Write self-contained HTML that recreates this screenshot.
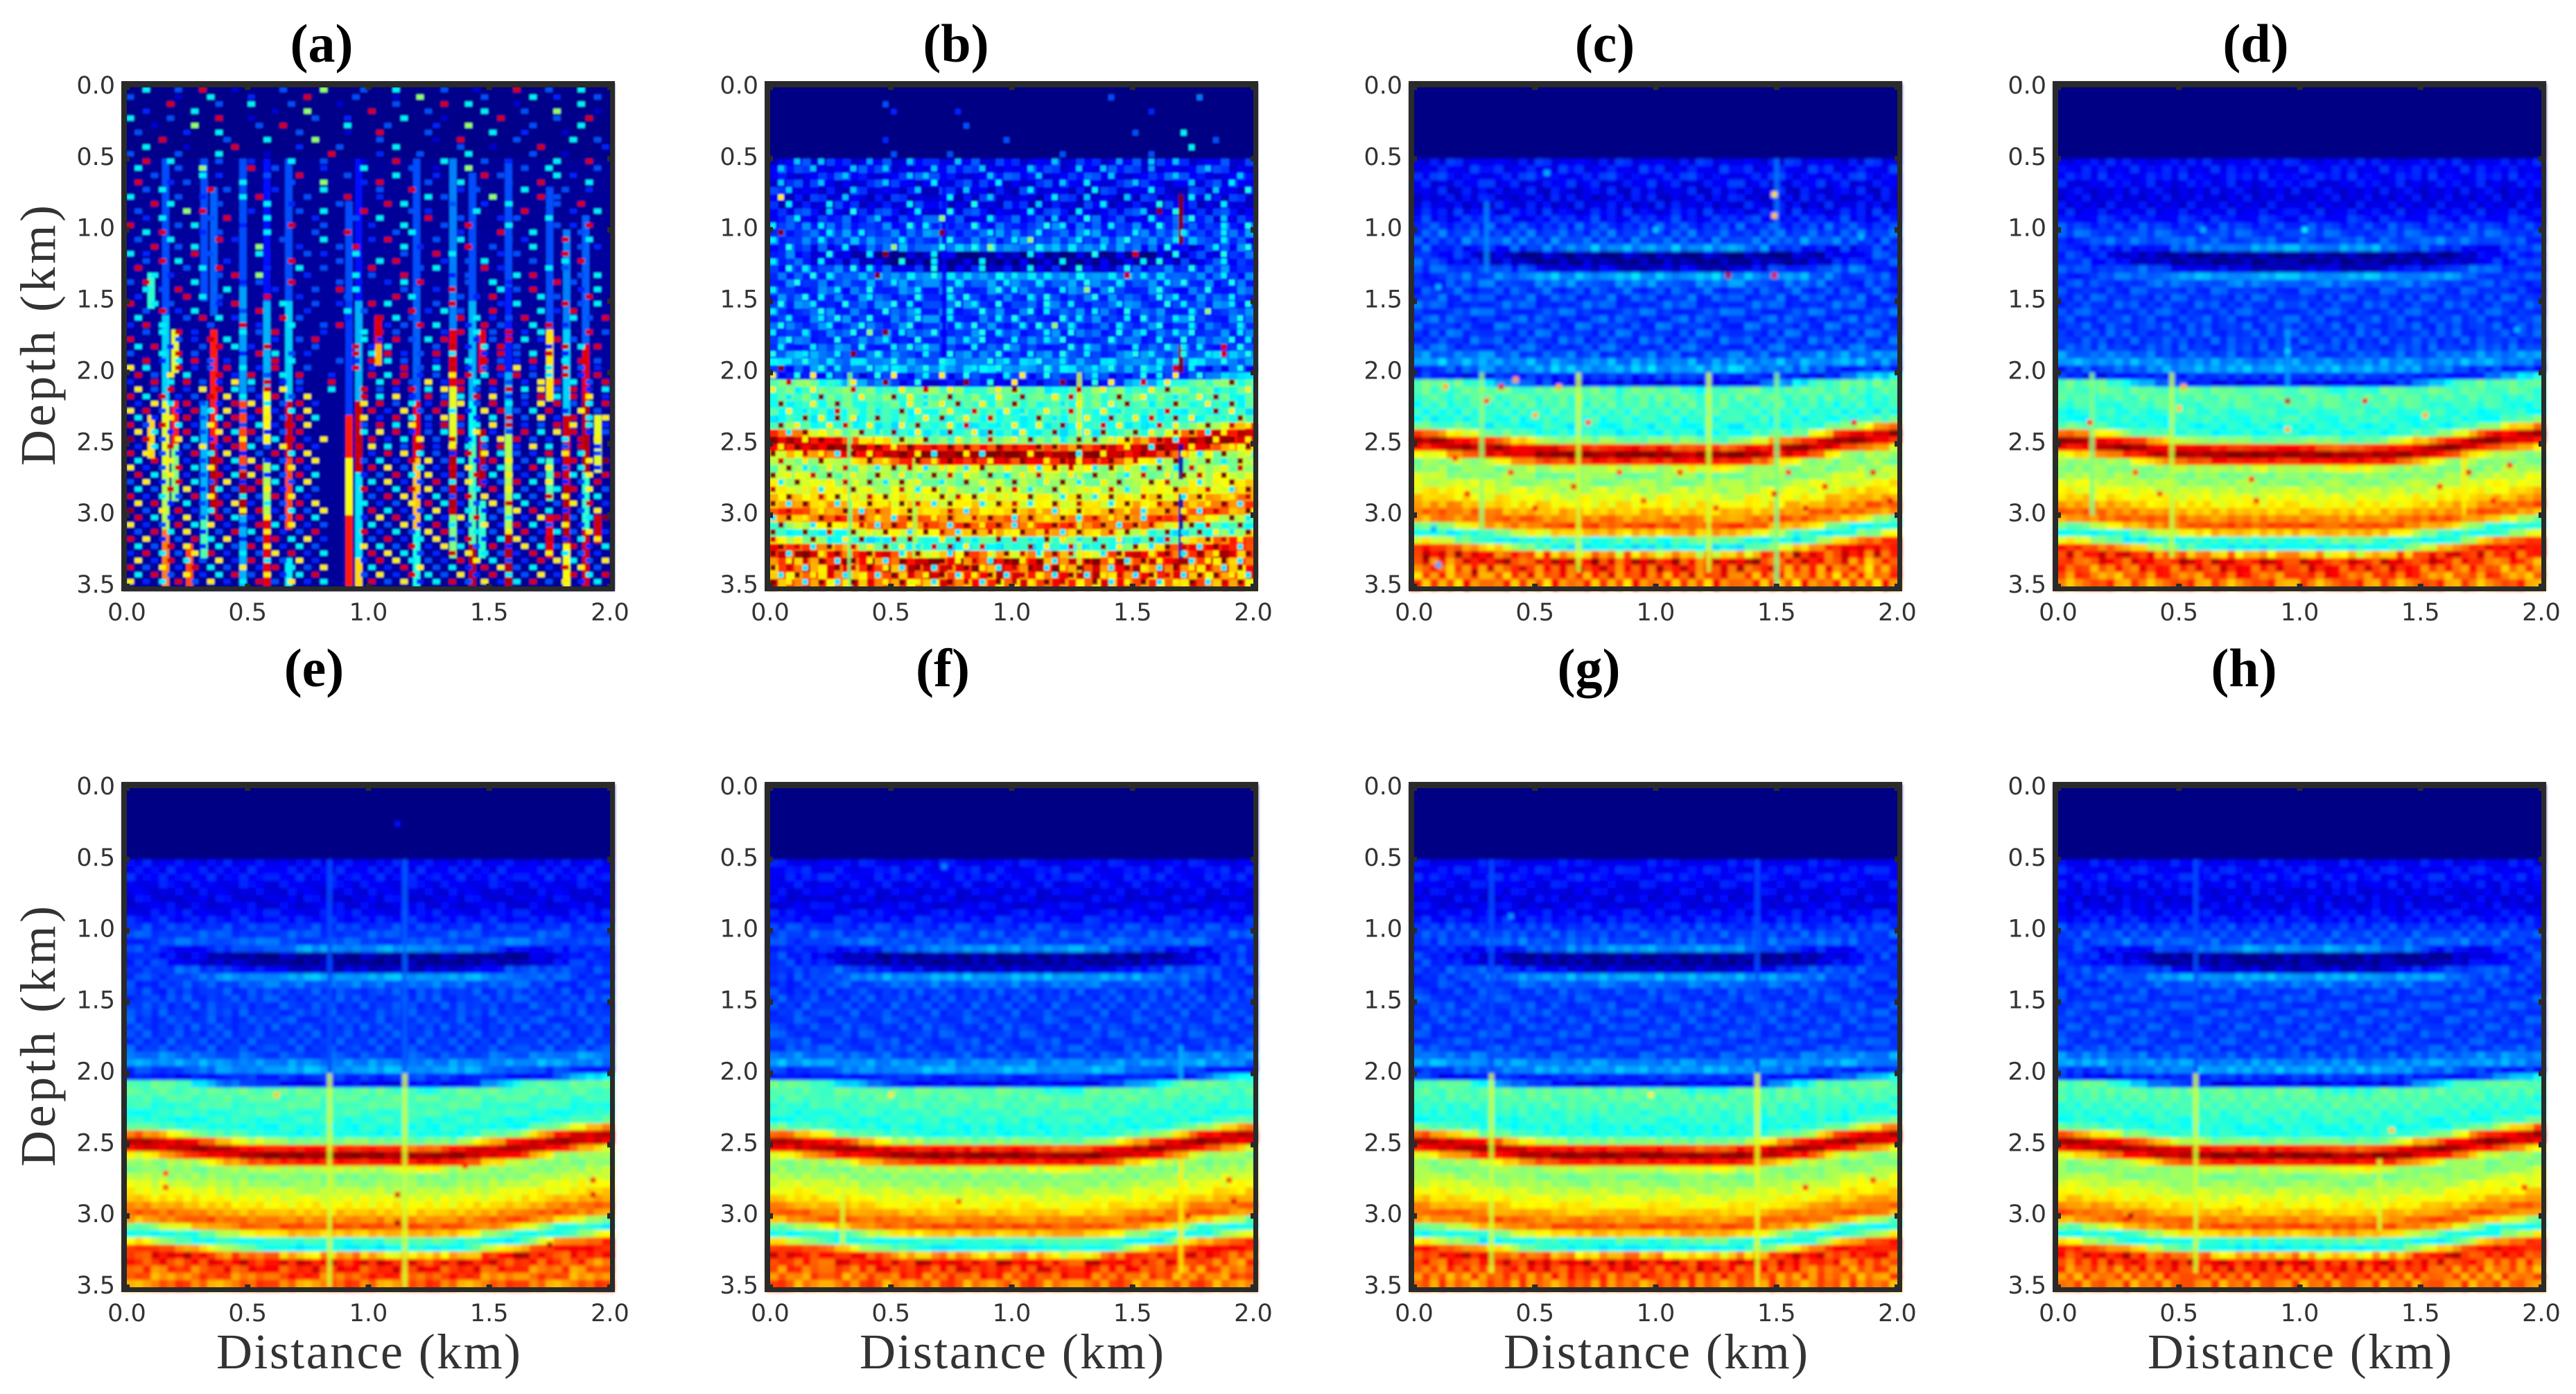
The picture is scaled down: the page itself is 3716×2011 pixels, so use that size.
<!DOCTYPE html>
<html lang="en">
<head>
<meta charset="utf-8">
<title>Depth sections (a)–(h)</title>
<style>
html,body{margin:0;padding:0;background:#fff}
svg{display:block}
.tick{font-family:"DejaVu Sans",sans-serif;font-size:35px;fill:#333}
.axis{font-family:"Liberation Serif",serif;font-size:72px;fill:#333}
.title{font-family:"Liberation Serif",serif;font-size:78px;font-weight:bold;fill:#000}
</style>
</head>
<body>
<svg id="fig" xmlns="http://www.w3.org/2000/svg" width="3716" height="2011" viewBox="0 0 3716 2011">
<defs>
<filter id="soft" filterUnits="userSpaceOnUse" x="0" y="0" width="3716" height="2011"><feGaussianBlur stdDeviation="2"/></filter>
<filter id="softFine" filterUnits="userSpaceOnUse" x="0" y="0" width="3716" height="2011"><feGaussianBlur stdDeviation="1.2"/></filter>
</defs>
<rect width="3716" height="2011" fill="#fff"/>
</svg>
<script>
// ---------- axis data ----------
const xTickValues = [0, 0.5, 1, 1.5, 2];
const xTickLabels = ['0.0', '0.5', '1.0', '1.5', '2.0'];
const yTickValues = [0, 0.5, 1, 1.5, 2, 2.5, 3, 3.5];
const yTickLabels = ['0.0', '0.5', '1.0', '1.5', '2.0', '2.5', '3.0', '3.5'];
const panelNames = ['a', 'b', 'c', 'd', 'e', 'f', 'g', 'h'];

// ---------- amplitude by depth (0.05 km per row, 0..1 on the jet scale), read at x = 1.0 km ----------
const depthProfile = [
.005,.005,.005,.005,.005,.005,.005,.005,.005,.005,
.115,.125,.13,.115,.1,.095,.1,.12,.14,.17,
.185,.19,.26,.03,.025,.07,.28,.22,.18,.18,
.18,.18,.18,.18,.18,.18,.18,.19,.25,.28,
.17,.12,.47,.46,.45,.43,.42,.4,.4,.5,
.85,.98,.85,.55,.5,.52,.56,.6,.63,.68,
.74,.8,.68,.42,.38,.7,.88,.84,.8,.76];

// Depth shift of the deep horizons per column (km), 60 columns from 0 to 2 km
const horizonShift = [
-.09,-.09,-.085,-.08,-.075,-.07,-.065,-.06,-.05,-.045,
-.04,-.03,-.025,-.02,-.015,-.01,-.01,-.005,-.005,0,
0,0,0,0,0,.005,0,0,0,0,
0,0,.005,.005,.01,.01,.01,.01,.01,.005,
0,-.005,-.01,-.015,-.025,-.03,-.035,-.045,-.05,-.06,
-.07,-.08,-.09,-.1,-.105,-.115,-.12,-.125,-.13,-.14];

// Shallow reflector (about 1.2 km): vertical shift and visibility per column
const reflectorShift = [
-.05,-.05,-.05,-.05,-.045,-.045,-.04,-.04,-.035,-.03,
-.03,-.025,-.02,-.02,-.015,-.015,-.01,-.01,-.01,-.005,
-.005,0,0,0,0,0,0,0,0,0,
0,0,0,0,0,0,0,0,0,0,
-.005,-.005,-.01,-.01,-.015,-.015,-.02,-.025,-.025,-.03,
-.03,-.035,-.04,-.04,-.045,-.045,-.05,-.05,-.05,-.05];
const reflectorStrength = [
0,0,0,.1,.2,.3,.4,.5,.6,.7,
.75,.8,.9,1,1,1,1,1,1,1,
1,1,1,1,1,1,1,1,1,1,
1,1,1,1,1,1,1,1,1,1,
1,1,1,1,1,1,1,1,.95,.85,
.75,.65,.55,.4,.3,.2,.1,.05,0,0];

// Fine-grain variation tile (digits 0-9, 4.5 is neutral)
const grainTile = [
"3716492085316749208371564902837",
"8250637194826035718492063581749",
"1964283705192648370519284637052",
"6038571926403857192640385719264",
"4792016385724916038572491603857",
"9135840627193584062719358406271",
"2607391548260739154826073915482",
"5481726093548172609354817260935",
"7329054816732905481673290548167",
"0856213974085621397408562139740",
"3194760528319476052831947605283",
"6572984130657298413065729841306",
"1840357692184035769218403576921",
"9263108475926310847592631084759",
"4718625930471862593047186259304",
"7035491286703549128670354912867",
"2596870314259687031425968703142",
"8361024759836102475983610247598",
"5127938640512793864051279386405",
"0983465172098346517209834651720",
"3640719825364071982536407198253",
"6805273419680527341968052734196",
"1472896053147289605314728960531",
"9258031746925803174692580317469"];
const grainAmount = [0, .06, .045, .035, .03, .03, .03, .03];

// Panel (a) background by depth band (every 0.5 km)
const panelABackground = [.01, .025, .03, .03, .025, .025, .025];

// Vertical streaks: [x km, from depth km, to depth km, amplitude]
const streaksA = [
[.16,.5,1.6,.2],[.16,1.6,2.2,.33],[.16,2.2,2.7,.6],[.16,2.7,3.1,.55],[.16,3.1,3.5,.75],
[.2,1.7,2,.6],[.2,2.2,2.5,.85],[.2,2.5,2.9,.5],[.1,1.3,1.55,.42],[.1,2.3,2.6,.66],[.26,3.2,3.5,.8],
[.32,.5,1.5,.2],[.32,2.2,3,.3],[.32,3,3.3,.45],[.36,.7,1.6,.22],[.36,1.7,2.5,.85],[.36,2.5,3,.95],
[.48,.5,1.4,.2],[.48,1.4,2.2,.28],[.48,2.2,2.7,.8],[.48,2.7,3,.96],[.48,3,3.5,.3],
[.58,.5,1.5,.14],[.58,1.5,2.1,.3],[.58,2.1,2.5,.62],[.58,2.6,3,.55],[.58,3,3.5,.9],
[.67,.5,1.5,.2],[.67,1.5,2.2,.33],[.67,2.2,2.6,.92],[.67,2.6,3.1,.8],[.67,3.3,3.5,.36],
[.92,.8,1.5,.2],[.92,1.5,2.3,.18],[.92,2.3,2.6,.85],[.92,2.6,3,.62],[.92,3,3.5,.85],
[.96,.5,1.5,.14],[.96,1.5,2.2,.3],[.96,2.2,2.7,.93],[.96,2.7,3.3,.35],[.96,3.3,3.5,.66],
[1.04,1.6,1.8,.9],[1.04,1.8,1.95,.7],
[1.2,.5,1.4,.2],[1.2,1.4,2.2,.22],[1.2,2.2,2.6,.9],[1.2,2.6,3.1,.68],[1.2,3.1,3.5,.4],
[1.35,.5,1.7,.25],[1.35,1.7,2.1,.9],[1.35,2.1,2.5,.6],[1.35,2.5,3,.95],[1.35,3,3.3,.5],
[1.43,.6,1.5,.2],[1.43,1.5,2.2,.3],[1.43,2.2,2.5,.38],[1.43,2.5,3.2,.45],[1.43,3.2,3.5,.95],
[1.47,1.7,2,.9],[1.47,2.4,2.8,.95],[1.47,2.9,3.3,.42],
[1.58,.5,1.4,.2],[1.58,1.4,2,.15],[1.58,2,2.4,.3],[1.58,2.4,3.1,.55],[1.58,3.1,3.5,.95],
[1.75,.7,1.7,.2],[1.75,1.7,2.2,.65],[1.75,2.6,2.9,.45],[1.75,3,3.3,.9],
[1.82,1,1.7,.25],[1.82,1.7,2.3,.33],[1.82,2.3,2.8,.92],[1.82,2.8,3.3,.95],[1.82,3.2,3.5,.62],
[1.9,.9,1.8,.22],[1.9,1.8,2.2,.9],[1.9,2.2,2.7,.95],[1.9,2.7,3.1,.42],[1.9,3.1,3.5,.92],
[1.95,2.3,2.7,.6],[1.95,3,3.2,.92]];
const streaksB = [[1.7,.75,1.1,.99],[1.7,1.8,2,.99],[1.7,2.5,2.75,.05],[1.7,2.85,3.3,.05],[.72,.5,1.9,.12],[.33,2,3.5,.5],[.6,2.6,3.3,.55],[1.28,2,3.4,.58]];
const streaksC = [[1.5,.5,1.1,.24],[1.5,2,3.5,.5],[.3,.8,1.3,.26],[.28,2,3.1,.52],[.68,2,3.4,.58],[1.22,2,3.4,.58]];
const streaksD = [[.95,1.7,2.1,.28],[.14,2,3,.5],[.47,2,3.3,.56],[1.68,2.6,3,.64]];
const streaksE = [[.84,.5,2,.2],[.84,2,3.5,.58],[1.15,.5,2,.22],[1.15,2,3.5,.58]];
const streaksF = [[1.7,1.8,2.05,.3],[1.7,2.6,3.4,.64],[.3,2.7,3.2,.58]];
const streaksG = [[.32,.5,2,.2],[.32,2,3.4,.58],[1.42,.5,2,.2],[1.42,2,3.5,.6]];
const streaksH = [[.57,.5,2,.2],[.57,2,3.4,.58],[1.33,2.6,3.1,.58]];

// Isolated bright cells: [x km, depth km, amplitude]
const spotsC = [[.1,1.4,.3],[.13,2.1,.7],[.3,2.2,.8],[.36,2.1,.9],[.42,2.05,.72],[.5,2.3,.7],[.6,2.1,.7],[.72,2.35,.8],[.17,2.6,.85],[.22,2.85,.88],[.4,2.7,.85],[.5,2.95,.85],[.66,2.8,.9],[.85,2.7,.8],[.95,2.9,.8],[1.1,2.7,.85],[1.25,2.95,.86],[1.3,1.32,.95],[1.49,1.32,.9],[1.49,.75,.65],[1.49,.9,.68],[1.49,2.85,.9],[1.55,2.7,.85],[1.62,2.95,.9],[1.7,2.8,.88],[1.82,2.35,.9],[1.9,2.7,.9],[1.97,2.9,.9],[.05,3.3,.98],[.08,3.1,.3],[.1,3.35,.3],[.25,3.4,.98],[.55,.6,.3],[1.0,1.0,.32],[1.85,1.05,.3]];
const spotsD = [[.13,2.35,.85],[.95,2.2,.95],[.95,2.4,.7],[1.27,2.2,.9],[.52,2.1,.7],[.5,2.25,.68],[1.52,2.3,.7],[.32,2.7,.8],[.8,2.75,.85],[1.58,2.8,.85],[1.7,2.7,.9],[1.8,2.9,.85],[1.87,2.65,.85],[.82,2.9,.85],[.42,2.85,.8],[.6,1,.3],[1.02,1.0,.36],[.95,1.85,.33],[1.9,1.7,.3]];
const spotsE = [[.62,2.15,.68],[1.12,2.85,.9],[1.12,3.05,.95],[1.93,2.75,.88],[1.93,2.85,.9],[.16,2.7,.8],[.16,2.8,.8],[1.75,3.2,.95],[1.12,.25,.14],[1.4,2.65,.85]];
const spotsF = [[1.9,2.75,.85],[1.92,2.9,.9],[.78,2.9,.78],[1.73,3,.9],[.5,2.15,.65],[.72,.55,.25]];
const spotsG = [[1.9,2.75,.82],[.98,2.15,.64],[1.62,2.8,.85],[.4,.9,.27]];
const spotsH = [[1.93,2.8,.85],[.75,2.95,.72],[1.38,2.4,.68],[.3,3.0,.95]];

// Speckle grids for the noisiest panels (60 columns x 70 rows; letter a-z means 0..1, dot means none)
const speckleA = [
"..j...f..x...c.....f....n....f...j.....f...c....x...f...j...",
"f.....c...j....e......x.....f....c..n.......f.....j..e....f.",
".....x.....f...j....f.....c......f.....x..j.....c.......j...",
"..e.....j.........c...n.......x......f......j....f...n....c.",
"j....f.....x...c.......f...e......j....c......x......f...x..",
"...c....n.......f..x.......j....f.....e...n.......f.....j...",
".f.....e...j.........f.....c...x.....f.......j...e....c.....",
"....x.......f....j.....n.......f......c..x......f......j..f.",
"..j....c.....x.......e....f......j.......f...c.....x.......e",
"f.....f....j.....c.......x.....e....f.....j.......f...c.....",
"..x..j.....f...e....j...f....c...x.....j....f..e.....j...x..",
".j....f..n.....x..f.....e....j.....f..c...n......f..j.....f.",
"...f.....j.e.....f...x.....f.....j....e.....x.f......j.e....",
".x...e.f......j.....f...n....e.x.....f...j.....f...x.....j..",
"..f.j.....x.f.....e.....j......f...x.....e.f.....j....f..e..",
"j.....f..e....j.x.....f....x...e.....j.f.....n.....x.f......",
"...x.j.....f.....j..e.....f.....x.j.....f...e..j.....f..x...",
".f.....n.x.....e.....f..j....x.....f.e.....j.....x.....e..j.",
"..e.j.....f.x....j.....e....f..j.....x...f....e.f...j.......",
"x.....f.j.....e.....x...f.....e...j....f..x....j.....f.e.x..",
"..j.x....e.f.....j.....f...x.....f.j.....e....x...j.....f...",
".f...j.....x.e.....f....j.....e.x.....f..j.....f.e....x..j..",
"...x..f.j.....f.n....e....f.x.....j.e.....x..f....j.....f.e.",
"j.e.....x.f.....j.....f.e...j.....f...x.j.....e.f.....x.....",
"..f.x.j.....e.f.....x.....f....j.x.....e..f.j.....f...j.x...",
".x.....f.j.x.....e...j..f.....x.....f.j.....x.e.....j.f.....",
"...j.e.....f.x..n.....e.....j.f...x.....e.f.....j.x.....f.j.",
"f.x.....j.....e.f...x.....f.....e.j.x.....f..j.e.....x.f....",
"..j.f.x.....j.....e....f..x.j.....f...e.x.....j.f.x.....e.j.",
".e.....x.j.f.....x...e.....f.....x.j.....f.e.x.....j.f...x..",
"x..j.f.....e.x.....j...f..e...x.j.....f.x.....e.j.....x.f.j.",
"..f.x.e.j.....f.x.....e....j.f.....x.e.j.f...x.....j.e.x....",
".j.....f.x.j.e.....x.f.....e...x.j.f.....x.j.e.f.x.....j.f.x",
"e.x.j.....f...x.e...j...f.x.....e.f.x.j...e.x.f...j.x.e.....",
"..f.j.x.e.....j.f.x.....e....j.x.f.....e.x.j.f.x.e.j.....x.f",
"x.....f.e.x.j.....e..f.x.....j.e.x.f.j.x...e.f.x.j.e.x.f....",
".j.x.e...f.x.j.e.x.....f....x.e.j.....f.x.e.j.x.f...e.x.j.x.",
"f...j.x.f.....e.x.j.f.e.....x.j.x.e.f.x.j...e.x.f.j.x.e.....",
"..x.e.j.x.f.e.....x.j.....f.e.x.j.f...e.x.j.x.f.e.x...j.x.f.",
"q.j...x.e.f.x.j.e.x...f.....x.e...x.f.j.x.e.f.x.q.e.j.x.f.e.",
".x.f.q.j...x.e.x.f.j.x...e....x.j.x.e.f.q.x.j.e.x.f.j.x.e.x.",
"e..x.j.x.f.e.q.j.x.e.f...x.....j.x.f.q.e.x.j.x.f.e.q.x.j.f.x",
".q.f.x.e.q.x.j.f.x.q.e...j...x.f.e.x.j.q.x.f.e.x.j.q.f.x.e.j",
"x.j.x.e.f.x.q.j.e.x.f.q......x.j.q.e.x.f.j.x.q.e.f.x.j.x.q.e",
".e.q.j.x.f.e.x.q.j.f.x.e.....q.x.f.j.e.x.q.f.x.j.e.q.x.f.j.x",
"q.x.f.e.x.j.q.f.x.e.j.q.......x.e.q.f.x.j.e.q.x.f.j.x.e.q.f.",
".j.e.q.x.f.j.x.e.q.f.x.j.....q.e.x.j.f.q.x.e.j.x.f.q.e.x.j.q",
"x.f.x.j.e.q.x.f.j.e.x.q......f.x.j.q.e.x.f.j.q.x.e.f.x.q.j.e",
".q.j.e.x.f.q.j.x.e.f.x.......j.q.x.e.f.j.x.q.e.f.x.j.q.x.e.f",
"z.x.f.q.j.e.x.q.f.j.x.e.q.....x.e.j.q.f.x.e.j.q.x.f.e.j.x.q.",
".e.j.x.f.q.e.x.j.f.q.x.e......q.j.f.x.e.q.j.f.x.e.q.j.f.x.e.",
"x.q.f.e.x.j.q.e.f.x.j.q.......e.x.q.j.f.e.x.q.j.f.e.x.q.j.f.",
".j.x.q.e.f.x.j.q.e.f.x.q.....f.j.e.x.q.f.j.e.x.q.f.j.e.x.q.z",
"q.e.f.x.j.q.e.f.x.j.q.e.......x.q.f.j.e.x.q.f.j.e.x.q.f.j.e.",
".x.j.q.e.f.x.j.q.e.f.x.j.....e.f.x.j.q.e.f.x.j.q.e.f.x.j.q.x",
"f.q.e.x.j.f.q.e.x.j.f.q.......j.q.e.f.x.j.q.e.f.x.j.q.e.f.x.",
".j.f.x.q.e.j.f.x.q.e.j.f.....x.e.j.x.q.f.e.j.x.q.f.e.j.x.q.f",
"x.e.j.f.x.q.e.j.f.x.q.e.......f.x.q.e.j.f.x.q.e.j.f.x.q.e.j.",
".q.x.e.j.f.x.q.e.j.f.x.q.....j.e.f.q.x.j.e.f.q.x.j.e.f.q.x.e",
"z.f.q.x.e.j.f.q.x.e.j.f.q.....x.j.e.f.q.x.j.e.f.q.x.j.e.f.q.",
".x.j.e.q.f.x.j.e.q.f.x.j.....e.q.x.f.j.e.q.x.f.j.e.q.x.f.j.z",
"q.e.f.x.j.q.e.f.x.j.q.e.f.....j.f.q.e.x.j.f.q.e.x.j.f.q.e.x.",
".f.x.j.q.e.f.x.j.q.e.f.x.....x.e.j.f.q.x.e.j.f.q.x.e.j.f.q.e",
"x.q.e.f.x.j.q.e.f.x.j.q.e.....f.x.e.j.q.f.x.e.j.q.f.x.e.j.q.",
".j.f.x.q.e.j.f.x.q.e.j.f.....q.j.f.x.e.q.j.f.x.e.q.j.f.x.e.j",
"e.x.j.f.q.x.e.j.f.q.x.e.j.....x.q.j.f.e.x.q.j.f.e.x.q.j.f.e.",
".q.e.x.j.f.q.e.x.j.f.q.e.....e.x.q.j.f.e.x.q.j.f.e.x.q.j.f.q",
"x.f.q.e.x.j.f.q.e.x.j.f.q.....j.e.x.q.f.j.e.x.q.f.j.e.x.q.f.",
".j.x.f.q.e.j.x.f.q.e.j.x.....f.q.e.x.j.f.q.e.x.j.f.q.e.x.j.x",
"q.e.j.x.f.q.e.j.x.f.q.e.j.....x.f.q.e.j.x.f.q.e.j.x.f.q.e.j."];
const speckleB = [
"............................................................",
"..........................................f..........g......",
"..............f.............................................",
"...............e.......e.......................e.............",
"............................................................",
"........................f....................................",
".............................................f.....j........",
"..............e..............f.........................f.....",
"....................................................j.......",
"...............f......f.............f..........f.............",
"...i..i.....h....i.....i...........i.......h...i..i.........",
".i...i....i...i.....i.....i.....i.....i..i.....h......i.....",
".........i.......i.i.......i.....i........i.......i.......i.",
".i....i.......i.....j.......j.......i..j.....i......i....j..",
"..i.......i.......i.....i.......j.......j......j.......i...k",
".q.......i............j....i.......j...i....i.......j.i.....",
"..j....j.........j.......k.......i.......j......k.......j...",
".......i..k.......j...k.........j.....j.......i.z.k.........",
"...j.........i.......n.....j.......i...k.......j....k...i...",
"j.....j..........k.j.....k........k.j.....j.....k.......j..k.",
".z.....j...j.........z.....j.....j.....j.....j.....j....j...",
"j.....j.........j.....k.......j.n.....j.....k.....j.....j...",
"..k......j.....n.....k...k.n.....k.......j.......k.....j...k",
".......k....j.z.....j...........j.......k....x....k.....k...",
"j.....j.........k...j.....j.........j.........j.k.......j...",
"..k.j.....k.j.......k.....j.....j.....k.....k.......k.......",
".....k.j.....z......k.j.......j...j.......j.x.j.........j...",
"...k...........j.......j.....j...j.....k...j.....j.k.....k.",
"j.......j...k.....j...k.....k.j.....j..n..k.....k.....k.....",
"....k.j.....j.....k...j.k.......j.k.....k.......k.j......j..",
".k...j...k.....k.j.....k.j..k.....k..j.....j.....k.j.....j.k",
"j.....k.......k...j...j...k.....k.j.....j...k.......j.n.....",
"..j...j.k...k.....k...j.....j.k.....k.j.....j.k...j.k.....k.",
".k.....j...k.....k.....j.k.....j.k.n.j.....j....k...j.....j.k",
"j...j.....k.n.z.j...k.....k.j.....j..k.....k..j...j.k.....j.",
"..k.....k.....j...k.....j.k...j...j.k.....k.....j..k.....k.j",
".j...j.....k...j.k.j.....j...k.......k.j.....j...k.j.j..x.k.",
"k...j...j.z..k.....j..k.....k...j...k..j.....k.j...k..j.x..k",
"..j.k..j...j...k.....k.....k.j...k..j.....j.....j.k.j...k...",
".z....k.j...k.j....k.j...j..k.....k.....j.k...k.j.x.j.....k.",
"q..k.q.j.....k.q...j.q..k....j.q..k.....j.....k.j.q..k.....j",
"..x.....k.q...z...k.....z..k..q.....z...k.q...x..q.k.....z..",
"q..j.q....x.....q..x..q.k...q.z.....k.x..q.....q.z.....j...q",
"..j...z....q...z.q.j..z.....q..z...q.x.....z..q...j..q.z.k..",
".z...q..z..k.....q.j.q.z..q...z.....j.q...q.z..j..z...q..z.",
"..q.j...x....j..z.q...q..x...q.j..q..x...q.j.....x.j...z.q..",
"j...z.q.z.q..z.k...q.z..q..x.....z.j...q..z..q.x..z.q...k.z.",
".z.q...q.x..q...q.z...q.x...j.q..q..z.q..x.q..j.x.q...z..x.q",
"..j.z...q..z.j.z..q.k.z..q.z...q.j.z...q.z...z.q..x.z.j.q...",
"z...q.z.x...q...z..z...q...x..q.z...j.z.z.q.z...z.j.z..q.z.q",
".q.z...z..x..z.q.z..x.z.z...z.x..z.z..z..z..q..j.x..q.x..q.z",
"z...x.q.j.z.q..x..q.j...q.j.z...q.x...j..q.x..z..z.q.j..z..q",
".x..q.z...q.z.q...z.q.z..x.q.x.z..q.z.q.x.z..x..j.z...z.j.z.",
"..z.j..q.x...j.z.x.j.q..j.z..q...j.z.x..j.z.q.j.z.j.x...q.x.",
"z.q..x.z..q..z..q...z.x.q..z.j.q.x...q..z...j.x..q.z.x..z..q",
".j.z...q.x..z.j.z.q..j..z.q...z...q.z.j..q.z...z.x...j.q.z..",
"x...q.j...z.q...x.j.z.q...j.z.x.j..z...q..x.j.q...z.q.x..j.z",
"..z...x.z.q.x.z...q..z.x.z...q..z.q.j.z.j.z...x.z..j.z...q.x",
"z.j.z.q.j...z.q.z.x.j.z.q.j.z.x.j..z..x.q.j.z.q.x.z...q.z.j.",
"..x...q..z.j.x...z.q..x.j..q..z..q.j..z...z.q.j..z.q.j.x...z",
"j.z.q.z.x..z.q.j.z..q.z..x.z..j.z.q.z.j.x.q.z.j.x..z...q.z.j",
".z...j.z.q.x.j.z.q.x..j.z.q.z.j.q..z.x...z.j.z.x..q.z.x...z.",
"z.j.z..x..z.q.z..j.z.x.j.z.x.q.z..x.j.z.q.x.z.q..z.j.z.q.j.z",
"x..q.z.j.q.z.j.x.z...q.z.j..z.x.j.z.q.j.z..q.j.z.x.q..z.x.q.",
".z.x.j.z..x.q.z.q.j.x.z.q.x.j...z.q..x.j.z.q.z.j.z.x.j.z..j.",
"z.j.z.q.z...z.x.j.z.q.j.z..q.z.x.j.z.x.q.j.z.x.q.z.j.z.q.x.z",
"..q.x.z.j.z.q.j.z..x.z.q.x.j.z.q.z.j.x.z..q.j.z.q.x.j.q.z.j.",
"z.x.j.q.z.x.z.q.j.z.j.x.z.q.j.x.z.j.q.z.x.j.z.q.j.z.q.x.j.z.",
".j.z.q.x.j.q.j.z.x.q.z.j.q.z.j.x.q.j.z.j.q.x.j.z.x.j.z.z.q.j",
"z.q.j.z.j.z.x.q.z.q.j.z.x.j.z.x.q.z.x.q.z.j.q.z.j.q.z.j.x.z."];

// ---------- layout ----------
const plotLefts = [183, 1111, 2040, 2969];
const plotTops = [126, 1137];
const plotWidth = 697;
const plotHeight = 720;
const kmWide = 2;
const kmDeep = 3.5;
const columns = 60;
const rows = 70;
const rowKm = 0.05;
const panelTitles = [[464, 64], [1379, 64], [2315, 64], [3254, 64], [453, 965], [1360, 965], [2292, 965], [3237, 965]];
const speckleDotHeight = [7, 8, 0, 0, 0, 0, 0, 0];
const speckleDotWidth = [10, 8, 0, 0, 0, 0, 0, 0];
const streakWidth = [10, 7, 7, 7, 7, 7, 7, 7];
const streakOpacity = [1, .85, .85, .85, .85, .85, .85, .85];
const svgNS = 'http://www.w3.org/2000/svg';
const fig = document.getElementById('fig');

function xAxis(left) { return function (km) { return left + km / kmWide * plotWidth; }; }
function yAxis(top) { return function (km) { return top + km / kmDeep * plotHeight; }; }
function clamp(v, lo, hi) { return Math.max(lo, Math.min(hi, v)); }

function jet(t) {
  t = clamp(t, 0, 1);
  const r = clamp(1.5 - Math.abs(4 * t - 3), 0, 1);
  const g = clamp(1.5 - Math.abs(4 * t - 2), 0, 1);
  const b = clamp(1.5 - Math.abs(4 * t - 1), 0, 1);
  return 'rgb(' + Math.round(r * 255) + ',' + Math.round(g * 255) + ',' + Math.round(b * 255) + ')';
}

function profileAt(rowPosition, floorRow) {
  const p = clamp(rowPosition, floorRow, rows - 1);
  const i = Math.floor(p);
  const j = Math.min(rows - 1, i + 1);
  return depthProfile[i] + (depthProfile[j] - depthProfile[i]) * (p - i);
}

function baseValue(panel, c, r) {
  if (r < 10) return depthProfile[r];
  let shift = 0;
  if (r >= 36) shift = horizonShift[c] * (r >= 46 ? 1 : 0.4 + 0.06 * (r - 36));
  if (r >= 20 && r < 30) shift = reflectorShift[c];
  let v = profileAt(r - shift / rowKm, 10);
  if (r >= 21 && r <= 28) v = 0.17 + (v - 0.17) * reflectorStrength[c];
  const ch = grainTile[(r + panel * 5) % grainTile.length].charCodeAt((c + panel * 11) % 31) - 48;
  let gain = r >= 65 ? 2.5 : 1;
  if (r < 40) gain = ch >= 7 ? 1.6 : 0.8;
  return v + grainAmount[panel] * gain * (ch - 4.5) / 4.5;
}

function buildGrid(panel) {
  const grid = [];
  for (let r = 0; r < rows; r++) {
    const line = [];
    for (let c = 0; c < columns; c++) {
      line.push(panel === 0 ? panelABackground[Math.floor(r / 10)] : baseValue(panel, c, r));
    }
    grid.push(line);
  }
  return grid;
}

const panelStreaks = [streaksA, streaksB, streaksC, streaksD, streaksE, streaksF, streaksG, streaksH];
const panelSpots = [[], [], spotsC, spotsD, spotsE, spotsF, spotsG, spotsH];
const panelSpeckle = [speckleA, speckleB, [], [], [], [], [], []];

function addText(parent, cls, x, y, str, anchor) {
  const t = document.createElementNS(svgNS, 'text');
  t.setAttribute('class', cls);
  t.setAttribute('x', x);
  t.setAttribute('y', y);
  t.setAttribute('text-anchor', anchor);
  t.textContent = str;
  parent.appendChild(t);
  return t;
}
function addRect(parent, x, y, w, h, fill) {
  const q = document.createElementNS(svgNS, 'rect');
  q.setAttribute('x', x);
  q.setAttribute('y', y);
  q.setAttribute('width', w);
  q.setAttribute('height', h);
  q.setAttribute('fill', fill);
  parent.appendChild(q);
  return q;
}

panelNames.forEach(function (name, p) {
  const left = plotLefts[p % 4];
  const top = plotTops[p < 4 ? 0 : 1];
  const x = xAxis(left);
  const y = yAxis(top);
  const group = document.createElementNS(svgNS, 'g');
  
  
  fig.appendChild(group);

  const grid = buildGrid(p);

  const heat = document.createElementNS(svgNS, 'g');
  
  
  heat.setAttribute('filter', p < 2 ? 'url(#softFine)' : 'url(#soft)');
  heat.setAttribute('shape-rendering', 'crispEdges');
  const frag = document.createDocumentFragment();
  for (let r = 0; r < rows; r++) {
    for (let c = 0; c < columns; c++) {
      let x0 = x(c * kmWide / columns);
      let x1 = x((c + 1) * kmWide / columns);
      let y0 = y(r * rowKm);
      let y1 = y((r + 1) * rowKm);
      if (c === 0) x0 -= 6;
      if (c === columns - 1) x1 += 6;
      if (r === 0) y0 -= 6;
      if (r === rows - 1) y1 += 6;
      const cell = addRect(frag, x0.toFixed(1), y0.toFixed(1), (x1 - x0 + 0.6).toFixed(1), (y1 - y0 + 0.6).toFixed(1), jet(grid[r][c]));
      
      
    }
  }
  panelStreaks[p].forEach(function (s) {
    const bar = addRect(frag, (x(s[0]) - streakWidth[p] / 2).toFixed(1), y(s[1]).toFixed(1), streakWidth[p], (y(s[2]) - y(s[1])).toFixed(1), jet(s[3]));
    bar.setAttribute('opacity', streakOpacity[p]);
    
    
  });
  panelSpeckle[p].forEach(function (line, r) {
    for (let c = 0; c < columns && c < line.length; c++) {
      if (line[c] === '.') continue;
      const amp = (line.charCodeAt(c) - 97) / 25;
      const dot = addRect(frag, x(c * kmWide / columns).toFixed(1), y(r * rowKm).toFixed(1), speckleDotWidth[p], speckleDotHeight[p], jet(amp));
      
      
    }
  });
  panelSpots[p].forEach(function (s) {
    const spot = addRect(frag, (x(s[0]) - 4).toFixed(1), (y(s[1]) - 4).toFixed(1), 8, 8, jet(s[2]));
    
    
  });
  heat.appendChild(frag);
  group.appendChild(heat);

  const frameColor = '#2a2a2a';
  const frameParts = [
    [left - 8, top - 9, plotWidth + 15, 9, 'frame-top'],
    [left - 8, top + plotHeight, plotWidth + 15, 7, 'frame-bottom'],
    [left - 8, top - 9, 8, plotHeight + 16, 'frame-left'],
    [left + plotWidth, top - 9, 7, plotHeight + 16, 'frame-right']
  ];
  frameParts.forEach(function (f) {
    const bar = addRect(group, f[0], f[1], f[2], f[3], frameColor);
    
    
  });

  xTickValues.forEach(function (v, i) {
    const tx = x(v);
    [[top, 4], [top + plotHeight - 4, 4]].forEach(function (m) {
      const nub = addRect(group, tx - 4, m[0], 8, m[1], frameColor);
      
      
    });
    const label = addText(group, 'tick', tx, top + plotHeight + 49, xTickLabels[i], 'middle');
    
    
  });
  yTickValues.forEach(function (v, i) {
    const ty = y(v);
    [[left, 4], [left + plotWidth - 4, 4]].forEach(function (m) {
      const nub = addRect(group, m[0], ty - 4, m[1], 8, frameColor);
      
      
    });
    const label = addText(group, 'tick', left - 17, ty + 9, yTickLabels[i], 'end');
    
    
  });

  const title = addText(group, 'title', panelTitles[p][0], panelTitles[p][1] + 25, '(' + name + ')', 'middle');
  
  

  if (p % 4 === 0) {
    const cy = top + plotHeight / 2;
    const yl = addText(group, 'axis', 0, 0, 'Depth (km)', 'middle');
    yl.setAttribute('transform', 'translate(79 ' + (cy - 2) + ') rotate(-90)');
    yl.setAttribute('textLength', '376');
    
    
  }
  if (p >= 4) {
    const xl = addText(group, 'axis', left + plotWidth / 2, 1974, 'Distance (km)', 'middle');
    xl.setAttribute('textLength', '439');
    
    
  }
});
</script>
</body>
</html>
